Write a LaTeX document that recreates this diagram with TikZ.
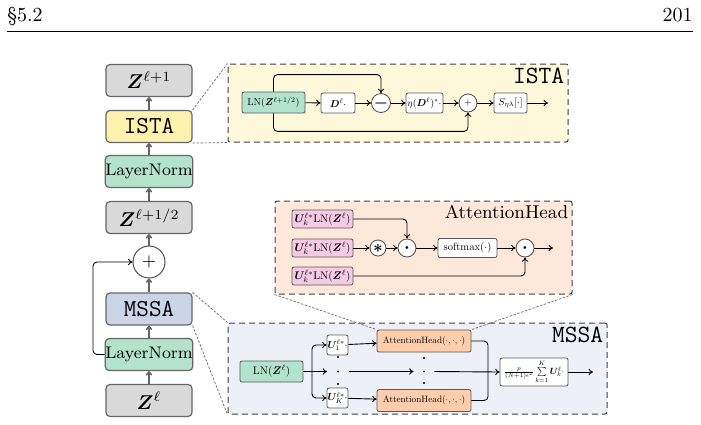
\RequirePackage{fix-cm}
\documentclass[tikz,border=0pt]{standalone}
\usepackage{amsmath,bm,graphicx}
\usetikzlibrary{arrows.meta}
\definecolor{zgray}{HTML}{D9D9D9}
\definecolor{istayellow}{HTML}{FFF2AE}
\definecolor{lngreen}{HTML}{B3E2CD}
\definecolor{mssablue}{HTML}{CBD5E8}
\definecolor{headorange}{HTML}{FDCDAC}
\definecolor{upink}{HTML}{F4CAE4}
\newcommand{\shrink}[2][0.5]{\scalebox{#1}{#2}}
\begin{document}
\begin{tikzpicture}[x=0.5pt,y=-0.5pt,>={To[length=2.2pt,width=3.2pt]},
  blk/.style={draw=black!60,line width=0.6pt,rounded corners=2pt,minimum width=43pt,minimum height=16pt,inner sep=0pt},
  sblk/.style={draw=black!65,line width=0.4pt,rounded corners=1pt,fill=white,inner sep=0pt},
  opc/.style={circle,draw=black!70,line width=0.4pt,fill=white,inner sep=0pt},
  panel/.style={draw=black!75,line width=0.5pt,densely dashed,rounded corners=1pt},
  zoomline/.style={black!60,line width=0.35pt,dash pattern=on 1.2pt off 0.8pt},
  flow/.style={->,black!60,line width=0.8pt},
  wire/.style={->,line width=0.45pt}]
\useasboundingbox (0,0) rectangle (701,424);
% running head
\node[anchor=base west,inner sep=0pt] (sec) at (7,21) {\S5.2};
\node[anchor=base east,inner sep=0pt] (pg) at (693,21) {201};
\draw[line width=0.5pt] (7,31) -- (693,31);

% main column
\node[blk,fill=zgray] (zout) at (149,80.5) {$\bm Z^{\ell+1}$};
\node[blk,fill=istayellow,font=\fontsize{12.2}{14}\ttfamily] (ista) at (149,126.5) {ISTA};
\node[blk,fill=lngreen,font=\fontsize{8.4}{10}\selectfont] (ln2) at (149,171.5) {LayerNorm};
\node[blk,fill=zgray] (zhalf) at (149,217.5) {$\bm Z^{\ell+1/2}$};
\node[opc,minimum size=16pt,line width=0.5pt,font=\fontsize{9}{10}\selectfont] (add) at (149,262) {$+$};
\node[blk,fill=mssablue,font=\fontsize{12.2}{14}\ttfamily] (mssa) at (149,309) {MSSA};
\node[blk,fill=lngreen,font=\fontsize{8.4}{10}\selectfont] (ln1) at (149,354.5) {LayerNorm};
\node[blk,fill=zgray] (zin) at (149,400.5) {$\bm Z^{\ell}$};
\draw[flow] (zin) -- (ln1);
\draw[flow] (ln1) -- (mssa);
\draw[flow] (mssa) -- (add);
\draw[flow] (add) -- (zhalf);
\draw[flow] (zhalf) -- (ln2);
\draw[flow] (ln2) -- (ista);
\draw[flow] (ista) -- (zout);
\draw[wire,rounded corners=2pt] (ln1.west) -- (93,354.5) -- (93,262) -- (add.west);

% ISTA block
\node[panel,fill=istayellow!45,minimum width=170pt,minimum height=39pt] (istap) at (398,103) {};
\node[anchor=north east,inner sep=2pt,font=\fontsize{12.4}{14}\ttfamily] (istat) at (istap.north east) {ISTA};
\node[sblk,fill=lngreen,minimum width=31.5pt,minimum height=10.5pt] (lnA) at (273.5,102.5) {\shrink{$\mathrm{LN}(\bm Z^{\ell+1/2})$}};
\node[sblk,minimum width=17pt,minimum height=10pt] (dA) at (338,103) {\shrink{$\bm D^{\ell}\cdot$}};
\node[opc,minimum size=9.5pt] (subA) at (381,103) {\shrink[0.8]{$\bm -$}};
\node[sblk,minimum width=18.5pt,minimum height=10pt] (etaA) at (424.5,103) {\shrink{$\eta(\bm D^{\ell})^{*}\cdot$}};
\node[opc,minimum size=9pt] (addA) at (468,103) {\shrink{$+$}};
\node[sblk,minimum width=16.5pt,minimum height=10pt] (sA) at (510.5,103) {\shrink{$S_{\eta\lambda}[\cdot]$}};
\coordinate (outA) at (548,103);
\draw[wire] (lnA) -- (dA);
\draw[wire] (dA) -- (subA);
\draw[wire] (subA) -- (etaA);
\draw[wire] (etaA) -- (addA);
\draw[wire] (addA) -- (sA);
\draw[wire] (sA) -- (outA);
\draw[wire,rounded corners=2pt] (lnA.north) -- ++(0,-17) -| (subA.north);
\draw[wire,rounded corners=2pt] (lnA.south) -- ++(0,18) -| (addA.south);

% AttentionHead block
\node[panel,fill=headorange!45,minimum width=148.5pt,minimum height=46.5pt] (headp) at (423.5,247.5) {};
\node[anchor=north east,inner sep=2pt,font=\fontsize{9.3}{11}\selectfont] (headt) at (headp.north east) {AttentionHead};
\foreach \n/\y in {1/219,2/248,3/276}
  \node[sblk,fill=upink,minimum width=30.5pt,minimum height=9pt] (u\n) at (322.5,\y) {\shrink[0.55]{$\bm U_k^{\ell*}\mathrm{LN}(\bm Z^{\ell})$}};
\node[opc,minimum size=8pt] (star) at (378,248) {\shrink[0.85]{$\bm\ast$}};
\node[opc,minimum size=9pt] (dot1) at (407,248) {\shrink[0.9]{$\bm\cdot$}};
\node[sblk,minimum width=29.5pt,minimum height=9.5pt] (smax) at (467.5,248) {\shrink[0.53]{$\mathrm{softmax}(\cdot)$}};
\node[opc,minimum size=9pt] (dot2) at (525,248) {\shrink[0.9]{$\bm\cdot$}};
\coordinate (outH) at (553,248);
\draw[wire] (u2) -- (star);
\draw[wire] (star) -- (dot1);
\draw[wire] (dot1) -- (smax);
\draw[wire] (smax) -- (dot2);
\draw[wire] (dot2) -- (outH);
\draw[wire,rounded corners=2pt] (u1.east) -| (dot1.north);
\draw[wire,rounded corners=2pt] (u3.east) -| (dot2.south);

% MSSA block
\node[panel,fill=mssablue!35,minimum width=189.5pt,minimum height=45.5pt] (mssap) at (417.5,368.5) {};
\node[anchor=north east,inner sep=2pt,font=\fontsize{12.4}{14}\ttfamily] (mssat) at (mssap.north east) {MSSA};
\node[sblk,fill=lngreen,minimum width=31.5pt,minimum height=10.5pt] (lnB) at (271.5,371.5) {\shrink[0.55]{$\mathrm{LN}(\bm Z^{\ell})$}};
\node[sblk,minimum width=10.5pt,minimum height=10pt] (uB1) at (337.5,345) {\shrink{$\bm U_1^{\ell*}\cdot$}};
\node[sblk,minimum width=10.5pt,minimum height=10pt] (uBK) at (337.5,398) {\shrink{$\bm U_K^{\ell*}\cdot$}};
\node[inner sep=0pt,minimum width=10.5pt,minimum height=4pt] (midU) at (338,371.5) {};
\node[sblk,fill=headorange,minimum width=47pt,minimum height=11pt] (ah1) at (424,341) {\shrink[0.46]{AttentionHead$(\cdot,\cdot,\cdot)$}};
\node[sblk,fill=headorange,minimum width=47pt,minimum height=11pt] (ahK) at (424,400.5) {\shrink[0.46]{AttentionHead$(\cdot,\cdot,\cdot)$}};
\node[inner sep=0pt,minimum width=10pt,minimum height=4pt] (midH) at (424,371.5) {};
\node[sblk,minimum width=34pt,minimum height=14pt] (sum) at (534,372) {\shrink[0.45]{$\frac{p}{(N+1)\epsilon^2}\sum\limits_{k=1}^{K}\bm U_k^{\ell}\cdot$}};
\coordinate (split) at (312,371.5);
\coordinate (merge) at (488,371.5);
\coordinate (outM) at (593,372);
\foreach \y in {357,371.5,384} \fill (338,\y) circle (0.55pt);
\foreach \y in {358,371.5,383} \fill (424,\y) circle (0.55pt);
\draw[line width=0.6pt] (lnB.east) -- (split);
\draw[wire,rounded corners=2pt] (split) |- (uB1.west);
\draw[wire,rounded corners=2pt] (split) |- (uBK.west);
\draw[wire] (split) -- (midU.west);
\draw[wire] (midU.east) -- (midH.west);
\draw[wire] (midH.east) -- (sum.west);
\draw[wire] (uB1) -- (ah1);
\draw[wire] (uBK) -- (ahK);
\draw[line width=0.45pt,rounded corners=2pt] (ah1.east) -| (merge);
\draw[line width=0.45pt,rounded corners=2pt] (ahK.east) -| (merge);
\draw[wire] (sum) -- (outM);

% zoom guides
\draw[zoomline] (ista.north east) -- (istap.north west);
\draw[zoomline] (ista.south east) -- (istap.south west);
\draw[zoomline] (mssa.north east) -- (mssap.north west);
\draw[zoomline] (mssa.south east) -- (mssap.south west);
\draw[zoomline] (headp.south west) -- (ah1.north west);
\draw[zoomline] (headp.south east) -- (ah1.north east);
\end{tikzpicture}
\end{document}
